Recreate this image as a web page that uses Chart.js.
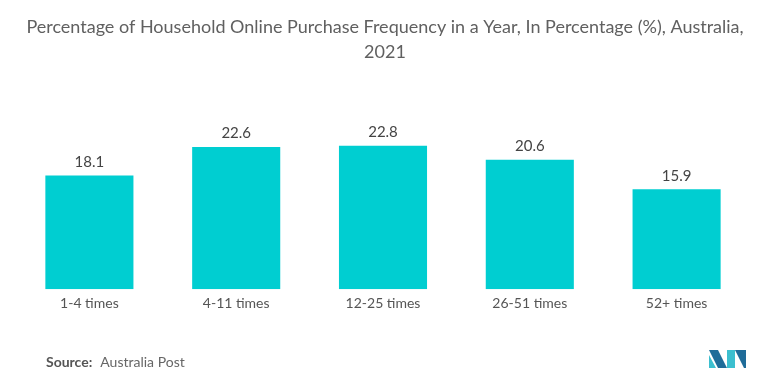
<!DOCTYPE html>
<html>
<head>
<meta charset="utf-8">
<script src="https://cdn.jsdelivr.net/npm/chart.js@4"></script>
<style>
  html, body { margin: 0; padding: 0; background: #fff; }
  #wrap { width: 765px; height: 389px; position: relative; }
</style>
</head>
<body>
<div id="wrap"><canvas id="purchaseChart" width="765" height="389"></canvas></div>
<script>
const categories = ['1-4 times', '4-11 times', '12-25 times', '26-51 times', '52+ times'];
const shares = [18.1, 22.6, 22.8, 20.6, 15.9];
const titleLines = ['Percentage of Household Online Purchase Frequency in a Year, In Percentage (%), Australia,', '2021'];
const sourceLabel = 'Source:';
const sourceText = 'Australia Post';

const ctx = document.getElementById('purchaseChart').getContext('2d');

function poly(c, color, pts) {
  c.fillStyle = color;
  c.beginPath();
  c.moveTo(pts[0][0], pts[0][1]);
  for (let i = 1; i < pts.length; i++) c.lineTo(pts[i][0], pts[i][1]);
  c.closePath();
  c.fill();
}

// title, value labels, source line and logo
const extras = {
  id: 'extras',
  afterDatasetsDraw(chart) {
    const c = chart.ctx;
    c.save();
    c.textAlign = 'center';
    c.textBaseline = 'middle';
    c.fillStyle = '#606060';
    c.font = '18px Lato';
    c.fillText(titleLines[0], 385, 27);
    c.fillText(titleLines[1], 385, 52);

    // value labels above bars
    const meta = chart.getDatasetMeta(0);
    c.font = '15px Lato';
    c.fillStyle = '#444';
    c.textBaseline = 'bottom';
    meta.data.forEach((bar, i) => {
      c.fillText(shares[i].toFixed(1), bar.x, bar.y - 6);
    });

    // source
    c.textAlign = 'left';
    c.textBaseline = 'middle';
    c.font = 'bold 14px Lato';
    c.fillStyle = '#555';
    c.fillText(sourceLabel, 46, 362);
    const w = c.measureText(sourceLabel).width;
    c.font = '14px Lato';
    c.fillStyle = '#666';
    c.fillText(sourceText, 46 + w + 8, 362);

    // logo
    poly(c, '#3cbfcf', [[709, 355], [716, 368], [709, 368]]);
    poly(c, '#1f6c99', [[709, 350], [718, 350], [727, 368], [718, 368]]);
    poly(c, '#3cbfcf', [[727, 350], [735, 350], [735, 368], [727, 368]]);
    poly(c, '#1f6c99', [[735, 350], [746, 350], [746, 368], [744, 368]]);
    c.restore();
  }
};

const chart = new Chart(ctx, {
  type: 'bar',
  data: {
    labels: categories,
    datasets: [{
      label: 'Share',
      data: shares,
      backgroundColor: '#00ced1',
      borderWidth: 0,
      barPercentage: 0.6,
      categoryPercentage: 1
    }]
  },
  options: {
    responsive: false,
    animation: false,
    layout: {
      padding: { top: 132, left: 16, right: 15, bottom: 71 }
    },
    scales: {
      x: {
        grid: { display: false, drawTicks: false },
        border: { display: false },
        ticks: {
          color: '#555',
          padding: 6,
          maxRotation: 0,
          font: { family: 'Lato', size: 14 }
        }
      },
      y: {
        display: false,
        min: 0,
        max: 25
      }
    },
    plugins: {
      legend: { display: false },
      tooltip: { enabled: false }
    }
  },
  plugins: [extras]
});
</script>
</body>
</html>
